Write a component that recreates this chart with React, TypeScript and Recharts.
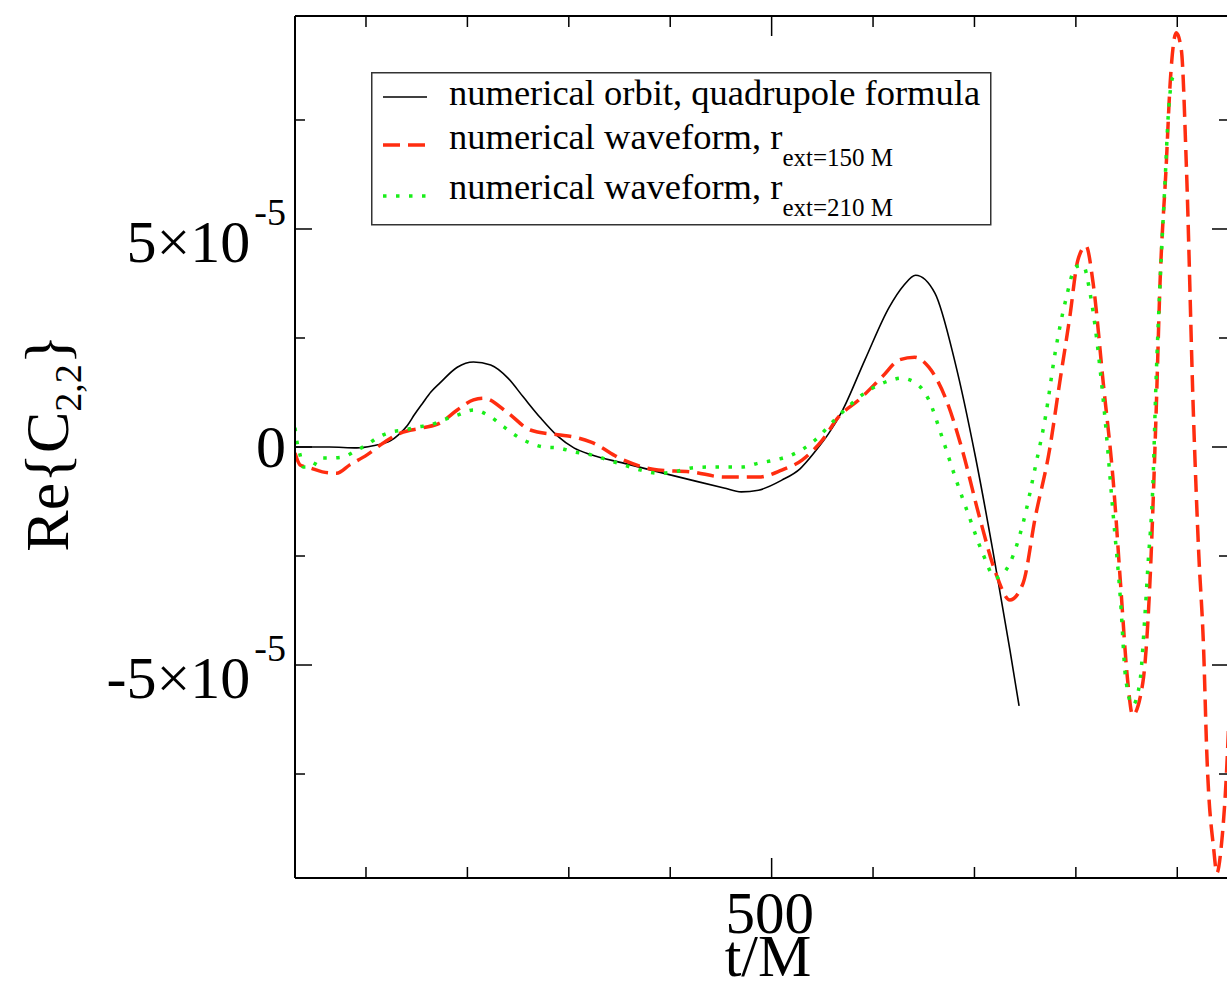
import { LineChart, Line, XAxis, YAxis } from "recharts";

// values of Re{C_2,2} are in units of 1e-5
const orbitT = [30, 64, 91, 107, 124, 132, 141, 148, 156, 164, 173, 190, 206, 223, 240, 255, 272, 289, 305, 322, 354, 388, 421, 453, 470, 487, 510, 528, 543, 556, 569, 592, 616, 630, 642, 661, 681, 701, 718, 735, 744];
const orbitC = [0, 0, -0.02, 0.03, 0.14, 0.28, 0.5, 0.75, 1.01, 1.26, 1.47, 1.83, 1.95, 1.88, 1.58, 1.15, 0.67, 0.25, -0.02, -0.18, -0.37, -0.57, -0.76, -0.94, -1.03, -0.99, -0.76, -0.5, -0.1, 0.3, 0.8, 2.0, 3.21, 3.7, 3.94, 3.53, 1.93, -0.23, -2.36, -4.66, -5.94];

const r150T = [30, 35, 45, 57, 71, 84, 101, 117, 134, 156, 173, 190, 206, 216, 240, 262, 289, 305, 322, 354, 388, 421, 453, 487, 510, 530, 550, 566, 586, 609, 626, 641, 655, 671, 688, 705, 721, 735, 748, 760, 774, 784, 794, 802, 810, 817, 827, 837, 844, 851, 856, 866, 873, 879, 883, 889, 893, 899, 904, 909, 916, 921, 926, 929, 936, 939, 944, 948, 952];
const r150C = [-0.14, -0.41, -0.48, -0.57, -0.6, -0.41, -0.18, 0.09, 0.32, 0.44, 0.55, 0.85, 1.08, 1.12, 0.78, 0.39, 0.28, 0.23, 0.11, -0.3, -0.53, -0.57, -0.69, -0.69, -0.53, -0.3, 0.16, 0.69, 1.08, 1.61, 2.0, 2.06, 1.83, 1.15, -0.07, -1.61, -2.89, -3.51, -3.12, -1.61, -0.07, 1.47, 2.98, 4.29, 4.61, 3.76, 1.47, -0.83, -3.12, -5.34, -6.15, -5.41, -3.12, 0.69, 3.76, 6.42, 8.35, 9.5, 9.11, 6.42, 0.69, -2.36, -4.66, -6.95, -9.24, -9.77, -9.01, -7.71, -5.6];

const r210T = [30, 32, 35, 38, 47, 54, 67, 77, 91, 101, 111, 124, 138, 151, 163, 176, 190, 206, 223, 236, 250, 262, 275, 289, 305, 322, 339, 354, 371, 388, 404, 421, 438, 453, 470, 487, 503, 520, 543, 562, 592, 619, 627, 642, 655, 668, 681, 695, 708, 721, 735, 748, 760, 770, 780, 790, 800, 807, 814, 827, 837, 844, 849, 856, 863, 868, 871, 876, 879, 883, 888, 891, 896, 901];
const r210C = [0.44, 0.11, -0.18, -0.46, -0.46, -0.25, -0.25, -0.23, -0.07, 0.05, 0.21, 0.34, 0.39, 0.46, 0.5, 0.62, 0.73, 0.85, 0.69, 0.46, 0.23, 0.09, 0, -0.02, -0.11, -0.18, -0.3, -0.41, -0.53, -0.6, -0.57, -0.48, -0.46, -0.46, -0.46, -0.37, -0.3, -0.18, 0.16, 0.62, 1.24, 1.54, 1.58, 1.47, 1.08, 0.23, -0.69, -1.61, -2.43, -3.0, -2.66, -1.74, -0.46, 0.69, 2.22, 3.37, 4.13, 4.17, 3.53, 1.08, -1.61, -3.51, -5.28, -5.92, -5.41, -3.9, -2.75, -0.83, 1.47, 3.76, 6.12, 7.57, 8.49, 8.53];

const xTicks = [100, 200, 300, 400, 500, 600, 700, 800, 900];
const yTicks = [-7.5, -5, -2.5, 0, 2.5, 5, 7.5];
const yLabels: Record<string, [string, string]> = { "5": ["5×10", "-5"], "0": ["0", ""], "-5": ["-5×10", "-5"] };

const toRows = (ts: number[], cs: number[]) => ts.map((t, i) => ({ t, c: cs[i] }));

const series = [
  { name: "numerical orbit, quadrupole formula", sub: "", data: toRows(orbitT, orbitC), color: "#000000", width: 1.6, dash: undefined as string | undefined },
  { name: "numerical waveform, r", sub: "ext=150 M", data: toRows(r150T, r150C), color: "#ff2d10", width: 3.5, dash: "17 8" },
  { name: "numerical waveform, r", sub: "ext=210 M", data: toRows(r210T, r210C), color: "#19ee19", width: 3.5, dash: "3.5 9.5" },
];

const FONT = "'Liberation Serif', 'Times New Roman', serif";

const XTickBottom = ({ x, y, payload }: any) => {
  const major = payload.value === 500;
  return (
    <g>
      <line x1={x} x2={x} y1={y} y2={y - (major ? 20 : 11)} stroke="#000" strokeWidth={1.5} />
      {major && (
        <text x={x - 2} y={y + 55} textAnchor="middle" fontSize={59} fontFamily={FONT} fill="#000">
          {payload.value}
        </text>
      )}
    </g>
  );
};

const XTickTop = ({ x, y, payload }: any) => {
  const major = payload.value === 500;
  return <line x1={x} x2={x} y1={y} y2={y + (major ? 20 : 11)} stroke="#000" strokeWidth={1.5} />;
};

const YTickLeft = ({ x, y, payload }: any) => {
  const lab = yLabels[String(payload.value)];
  return (
    <g>
      <line x1={x} x2={x + (lab ? 17 : 10)} y1={y} y2={y} stroke="#000" strokeWidth={1.5} />
      {lab && (
        <text x={x - 9} y={y + (lab[1] ? 33 : 20)} textAnchor="end" fontSize={60} fontFamily={FONT} fill="#000">
          {lab[0]}
          {lab[1] && (
            <tspan fontSize={38} dx={4} dy={-37}>
              {lab[1]}
            </tspan>
          )}
        </text>
      )}
    </g>
  );
};

const YTickRight = ({ x, y, payload }: any) => {
  const major = yLabels[String(payload.value)];
  return <line x1={x} x2={x - (major ? 17 : 10)} y1={y} y2={y} stroke="#000" strokeWidth={1.5} />;
};

const LegendBox = () => (
  <svg width={622} height={155} style={{ display: "block" }}>
    <rect x={0.75} y={0.75} width={619} height={152} fill="#fff" stroke="#333" strokeWidth={1.5} />
    {series.map((s, i) => {
      const ly = [25, 73, 124][i];
      const by = [33, 77, 127][i];
      return (
        <g key={i}>
          <line x1={12} x2={56} y1={ly} y2={ly} stroke={s.color} strokeWidth={s.width} strokeDasharray={s.dash} />
          <text x={78} y={by} fontSize={36.5} fontFamily={FONT} fill="#000">
            {s.name}
            {s.sub && (
              <tspan fontSize={25} dy={17}>
                {s.sub}
              </tspan>
            )}
          </text>
        </g>
      );
    })}
  </svg>
);

export default function App() {
  return (
    <div style={{ position: "absolute", left: 0, top: 0, width: 1227, height: 987, overflow: "hidden", background: "#fff" }}>
      <LineChart width={1262} height={987} margin={{ top: 15, right: 32, bottom: 108, left: 294 }}>
        <XAxis
          dataKey="t"
          type="number"
          domain={[30, 951]}
          ticks={xTicks}
          interval={0}
          height={1}
          tickSize={0}
          tickMargin={0}
          tickLine={false}
          axisLine={{ stroke: "#000", strokeWidth: 2 }}
          tick={XTickBottom}
          allowDataOverflow
          label={{
            content: () => (
              <text x={768} y={976} textAnchor="middle" fontSize={60} fontFamily={FONT} fill="#000">
                t/M
              </text>
            ),
          }}
        />
        <XAxis
          xAxisId="top"
          orientation="top"
          dataKey="t"
          type="number"
          domain={[30, 951]}
          ticks={xTicks}
          interval={0}
          height={1}
          tickSize={0}
          tickMargin={0}
          tickLine={false}
          axisLine={{ stroke: "#000", strokeWidth: 2 }}
          tick={XTickTop}
          allowDataOverflow
        />
        <YAxis
          type="number"
          domain={[-9.885, 9.885]}
          ticks={yTicks}
          interval={0}
          width={1}
          tickSize={0}
          tickMargin={0}
          tickLine={false}
          axisLine={{ stroke: "#000", strokeWidth: 2 }}
          tick={YTickLeft}
          allowDataOverflow
          label={{
            content: () => (
              <text x={68} y={443} transform="rotate(-90 68 443)" textAnchor="middle" fontSize={62} fontFamily={FONT} fill="#000">
                Re{"{"}C
                <tspan fontSize={38} dy={13}>
                  2,2
                </tspan>
                <tspan dy={-13}>{"}"}</tspan>
              </text>
            ),
          }}
        />
        <YAxis
          yAxisId="right"
          orientation="right"
          type="number"
          domain={[-9.885, 9.885]}
          ticks={yTicks}
          interval={0}
          width={1}
          tickSize={0}
          tickMargin={0}
          tickLine={false}
          axisLine={{ stroke: "#000", strokeWidth: 2 }}
          tick={YTickRight}
          allowDataOverflow
        />
        {series.map((s, i) => (
          <Line
            key={i}
            data={s.data}
            dataKey="c"
            name={s.name + (s.sub ? " " + s.sub : "")}
            type="monotone"
            stroke={s.color}
            strokeWidth={s.width}
            strokeDasharray={s.dash}
            dot={false}
            activeDot={false}
            isAnimationActive={false}
          />
        ))}
      </LineChart>
      <div style={{ position: "absolute", left: 371, top: 72 }}>
        <LegendBox />
      </div>
    </div>
  );
}
